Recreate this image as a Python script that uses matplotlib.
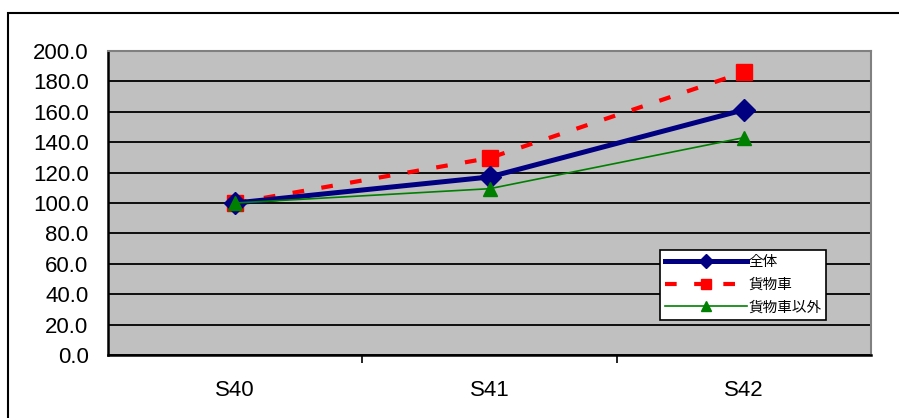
import matplotlib.pyplot as plt
from matplotlib.patches import Rectangle

plt.rcParams['font.family'] = ['Liberation Sans', 'Noto Sans CJK JP', 'DejaVu Sans']

years = ['S40', 'S41', 'S42']
total = [100.0, 117.1, 161.3]
trucks = [100.0, 129.6, 186.0]
non_trucks = [100.0, 109.4, 143.0]
yticks = [0, 20, 40, 60, 80, 100, 120, 140, 160, 180, 200]

fig = plt.figure(figsize=(8.99, 4.18), dpi=100)
ax = fig.add_axes([108 / 899, 63 / 418, 763 / 899, 304 / 418])
ax.set_facecolor('#C0C0C0')

x = range(len(years))
ax.plot(x, total, color='#000080', lw=3.6, marker='D', ms=11, label='全体', zorder=4)
ax.plot(x, trucks, color='#FF0000', lw=3, ls=(0, (2.8, 4.2)), marker='s', ms=12,
        label='貨物車', zorder=3)
ax.plot(x, non_trucks, color='#008000', lw=1.2, marker='^', ms=10, label='貨物車以外', zorder=5)

ax.set_xlim(-0.5, 2.5)
ax.set_ylim(0, 200)
ax.set_yticks(yticks)
ax.set_yticklabels([f'{v:.1f}' for v in yticks])
ax.set_xticks(list(x))
ax.set_xticklabels(years)
ax.set_xticks([0.5, 1.5], minor=True)
ax.tick_params(axis='x', which='major', length=0, pad=18, labelsize=16)
ax.tick_params(axis='x', which='minor', length=6, width=1.2, direction='out')
ax.tick_params(axis='y', length=0, pad=14, labelsize=16)
ax.yaxis.grid(True, color='black', lw=1.3)
ax.set_axisbelow(True)
for side in ['left', 'bottom']:
    ax.spines[side].set_linewidth(1.8)
for side in ['top', 'right']:
    ax.spines[side].set_color('#808080')
    ax.spines[side].set_linewidth(1.5)

leg = ax.legend(loc='upper left', bbox_to_anchor=(660 / 899, 1 - 250 / 418),
                bbox_transform=fig.transFigure, fontsize=10.5, handlelength=5.6,
                handletextpad=0.1, borderpad=0.35, labelspacing=0.6,
                fancybox=False, framealpha=1, edgecolor='black', markerscale=0.65,
                borderaxespad=0)
leg.get_frame().set_linewidth(1.2)

fig.patches.append(Rectangle((8 / 899, -0.1), 1.0, 1 - 13 / 418 + 0.1,
                             transform=fig.transFigure, fill=False,
                             edgecolor='black', lw=1.5))

fig.savefig('out.png', dpi=100)
